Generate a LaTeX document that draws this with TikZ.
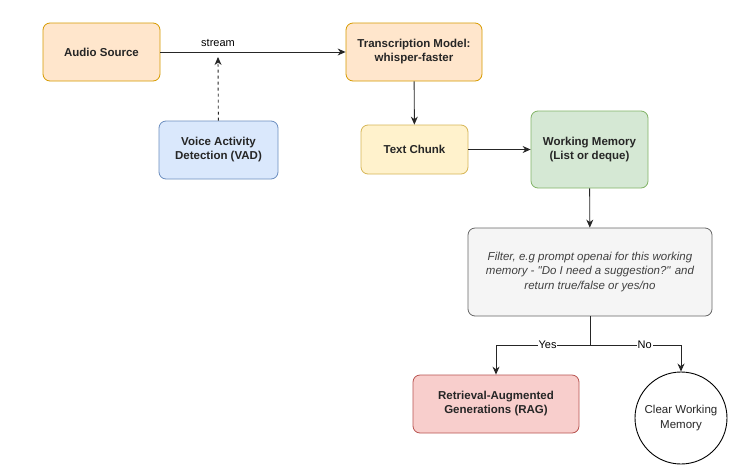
\documentclass[tikz,border=0pt]{standalone}
\usepackage{fontspec}
\setmainfont{Liberation Sans}
\usetikzlibrary{arrows.meta}
\definecolor{orfill}{HTML}{FFE6CC}\definecolor{orline}{HTML}{D79B00}
\definecolor{blfill}{HTML}{DAE8FC}\definecolor{blline}{HTML}{6C8EBF}
\definecolor{yefill}{HTML}{FFF2CC}\definecolor{yeline}{HTML}{D6B656}
\definecolor{grfill}{HTML}{D5E8D4}\definecolor{grline}{HTML}{82B366}
\definecolor{gyfill}{HTML}{F5F5F5}\definecolor{gyline}{HTML}{666666}
\definecolor{rdfill}{HTML}{F8CECC}\definecolor{rdline}{HTML}{B85450}
\tikzset{
  box/.style={draw, rounded corners=7pt, line width=0.8pt, align=center, font=\bfseries\fontsize{11.5}{14}\selectfont, text=black!85, inner sep=0pt},
  conn/.style={-{Stealth[length=8pt,width=7pt]}, line width=0.9pt, draw=black!85},
  lbl/.style={font=\fontsize{11}{13}\selectfont, fill=white, inner sep=1pt}
}
\begin{document}
\begin{tikzpicture}[x=1pt,y=-1pt]
\useasboundingbox[fill=white] (0,0) rectangle (749,472);
\node[box, fill=orfill, draw=orline, minimum width=117pt, minimum height=58pt] (audio) at (101.5,52) {Audio Source};
\node[box, fill=orfill, draw=orline, minimum width=136pt, minimum height=58pt] (trans) at (414,52) {Transcription Model:\\whisper-faster};
\node[box, fill=blfill, draw=blline, minimum width=119pt, minimum height=58pt] (vad) at (218.5,150) {Voice Activity\\Detection (VAD)};
\node[box, fill=yefill, draw=yeline, minimum width=107pt, minimum height=49pt] (chunk) at (414.5,149.5) {Text Chunk};
\node[box, fill=grfill, draw=grline, minimum width=117pt, minimum height=77pt] (wm) at (589.5,149.5) {Working Memory\\(List or deque)};
\node[box, fill=gyfill, draw=gyline, minimum width=244pt, minimum height=88pt, font=\itshape\fontsize{11.5}{14.5}\selectfont, text=black!75] (filter) at (590,272) {Filter, e.g prompt openai for this working\\memory - \textquotedbl Do I need a suggestion?\textquotedbl{} and\\return true/false or yes/no};
\node[box, fill=rdfill, draw=rdline, minimum width=166pt, minimum height=58pt] (rag) at (496,404) {Retrieval-Augmented\\Generations (RAG)};
\node[draw, circle, line width=0.9pt, minimum size=92pt, inner sep=0pt, align=center, text=black!85, font=\fontsize{11.5}{14.5}\selectfont] (clear) at (681,418) {Clear Working\\Memory};
\coordinate (vadtip) at (218,57);
\coordinate (split) at (590,345);
\draw[conn] (audio) -- (trans);
\node[font=\fontsize{11}{13}\selectfont] (stream) at (218,43) {stream};
\draw[conn, dashed, dash pattern=on 3pt off 3pt] (vad) -- (vadtip);
\draw[conn] (trans) -- (chunk);
\draw[conn] (chunk) -- (wm);
\draw[conn] (wm) -- (filter);
\draw[line width=0.9pt, draw=black!85] (filter) -- (split);
\draw[conn] (split) -| node[lbl, pos=0.226] (yes) {Yes} (rag);
\draw[conn] (split) -| node[lbl, pos=0.3] (no) {No} (clear);
\end{tikzpicture}
\end{document}
